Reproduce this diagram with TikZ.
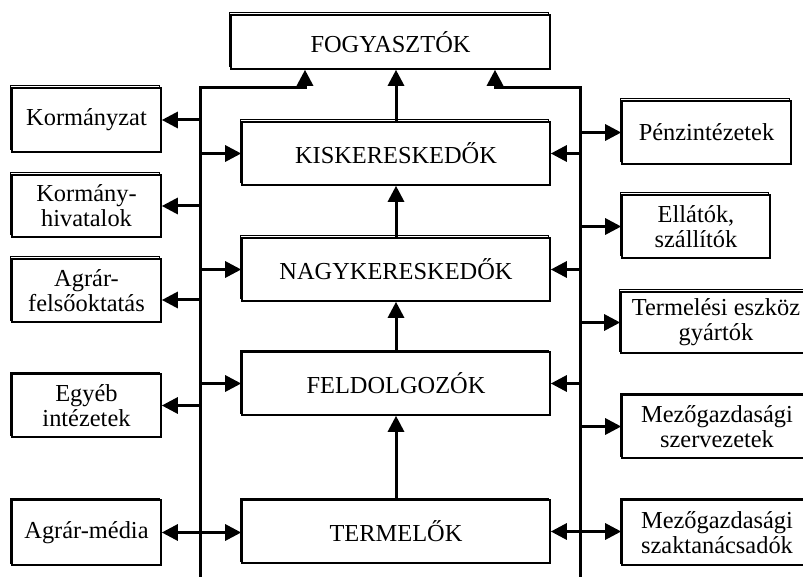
\documentclass[tikz,border=0pt]{standalone}
\usepackage{fontspec}
\setmainfont{Liberation Serif}
\usetikzlibrary{arrows.meta,shadows}

\begin{document}
\begin{tikzpicture}
    % ===== PARAMETERS =====
    \pgfmathsetmacro{\W}{803}   % total width (px)
    \pgfmathsetmacro{\H}{577}   % total height (px)
    \pgfmathsetmacro{\U}{0.5}   % pt per px
    \pgfmathsetmacro{\Lx}{200}  % left bus
    \pgfmathsetmacro{\Rx}{580}  % right bus
    \pgfmathsetmacro{\Ty}{88}   % top of the buses

    % ===== STYLES =====
    \tikzset{
        box/.style={
            draw, fill=white, line width=0.8pt,
            align=center, inner sep=0pt,
            font=\fontsize{12.2}{12.5}\selectfont,
            copy shadow={shadow xshift=-1pt, shadow yshift=1pt,
                draw=black, fill=white, line width=0.5pt}
        },
        boxsize/.style 2 args={
            minimum width=#1*\U*1pt, minimum height=#2*\U*1pt
        },
        arr/.style={line width=1.5pt, -{Triangle[length=8pt,width=8pt]}},
        arrtwo/.style={line width=1.5pt,
            {Triangle[length=8pt,width=8pt]}-{Triangle[length=8pt,width=8pt]}}
    }

    \begin{scope}[x=\U pt, y=-\U pt]

        \useasboundingbox (0,0) rectangle (\W,\H);
        \clip (0,0) rectangle (\W,\H);

        % ===== CHAIN IN THE MIDDLE =====
        \node[box, boxsize={319}{54}] (fogy) at (390.5,42)  {FOGYASZTÓK};
        \node[box, boxsize={308}{63}] (kisk) at (396,153.5) {KISKERESKEDŐK};
        \node[box, boxsize={308}{63}] (nagy) at (396,269.5) {NAGYKERESKEDŐK};
        \node[box, boxsize={308}{63}] (feld) at (396,383.5) {FELDOLGOZÓK};
        \node[box, boxsize={308}{63}] (term) at (396,531.5) {TERMELŐK};

        % ===== LEFT BOXES =====
        \node[box, boxsize={149}{64}] (korm)  at (86.5,120)   {Kormányzat};
        \node[box, boxsize={149}{62}] (hiv)   at (86.5,206)   {Kormány-\\hivatalok};
        \node[box, boxsize={149}{63}] (felso) at (86.5,290.5) {Agrár-\\felsőoktatás};
        \node[box, boxsize={149}{63}] (egyeb) at (86.5,405.5) {Egyéb\\intézetek};
        \node[box, boxsize={149}{65}] (media) at (86.5,532.5) {Agrár-média};

        % ===== RIGHT BOXES =====
        \node[box, boxsize={169}{63}] (penz)   at (706.5,132.5) {Pénzintézetek};
        \node[box, boxsize={148}{63}] (ellat)  at (696,226.5)   {Ellátók,\\szállítók};
        \node[box, boxsize={190}{61}] (gyart)  at (716,322.5)   {Termelési eszköz\\gyártók};
        \node[box, boxsize={190}{63}] (szerv)  at (717,426.5)   {Mezőgazdasági\\szervezetek};
        \node[box, boxsize={190}{65}] (tanacs) at (717,532.5)   {Mezőgazdasági\\szaktanácsadók};

        % ===== BUSES =====
        \coordinate (lt) at (\Lx,\Ty);
        \coordinate (lb) at (\Lx,\H+5);
        \coordinate (rt) at (\Rx,\Ty);
        \coordinate (rb) at (\Rx,\H+5);
        \coordinate (fl) at ([xshift=-42.75pt]fogy.south);
        \coordinate (fr) at ([xshift=52.25pt]fogy.south);

        \draw[arr] (lb) -- (lt) -| (fl);
        \draw[arr] (rb) -- (rt) -| (fr);

        % Upward flow
        \draw[arr] (kisk.north) -- (kisk.north |- fogy.south);
        \draw[arr] (nagy) -- (kisk);
        \draw[arr] (feld) -- (nagy);
        \draw[arr] (term) -- (feld);

        % ===== LEFT CONNECTORS =====
        \coordinate (felsoin) at ([yshift=-4.75pt]felso.east);
        \draw[arr] (lt |- korm.east)  -- (korm.east);
        \draw[arr] (lt |- kisk.west)  -- (kisk.west);
        \draw[arr] (lt |- hiv.east)   -- (hiv.east);
        \draw[arr] (lt |- nagy.west)  -- (nagy.west);
        \draw[arr] (lt |- felsoin)    -- (felsoin);
        \draw[arr] (lt |- feld.west)  -- (feld.west);
        \draw[arr] (lt |- egyeb.east) -- (egyeb.east);
        \draw[arrtwo] (media.east) -- (media.east -| term.west);

        % ===== RIGHT CONNECTORS =====
        \draw[arr] (rt |- penz.west)  -- (penz.west);
        \draw[arr] (rt |- kisk.east)  -- (kisk.east);
        \draw[arr] (rt |- ellat.west) -- (ellat.west);
        \draw[arr] (rt |- nagy.east)  -- (nagy.east);
        \draw[arr] (rt |- gyart.west) -- (gyart.west);
        \draw[arr] (rt |- feld.east)  -- (feld.east);
        \draw[arr] (rt |- szerv.west) -- (szerv.west);
        \draw[arrtwo] (term.east) -- (term.east -| tanacs.west);

    \end{scope}
\end{tikzpicture}
\end{document}
